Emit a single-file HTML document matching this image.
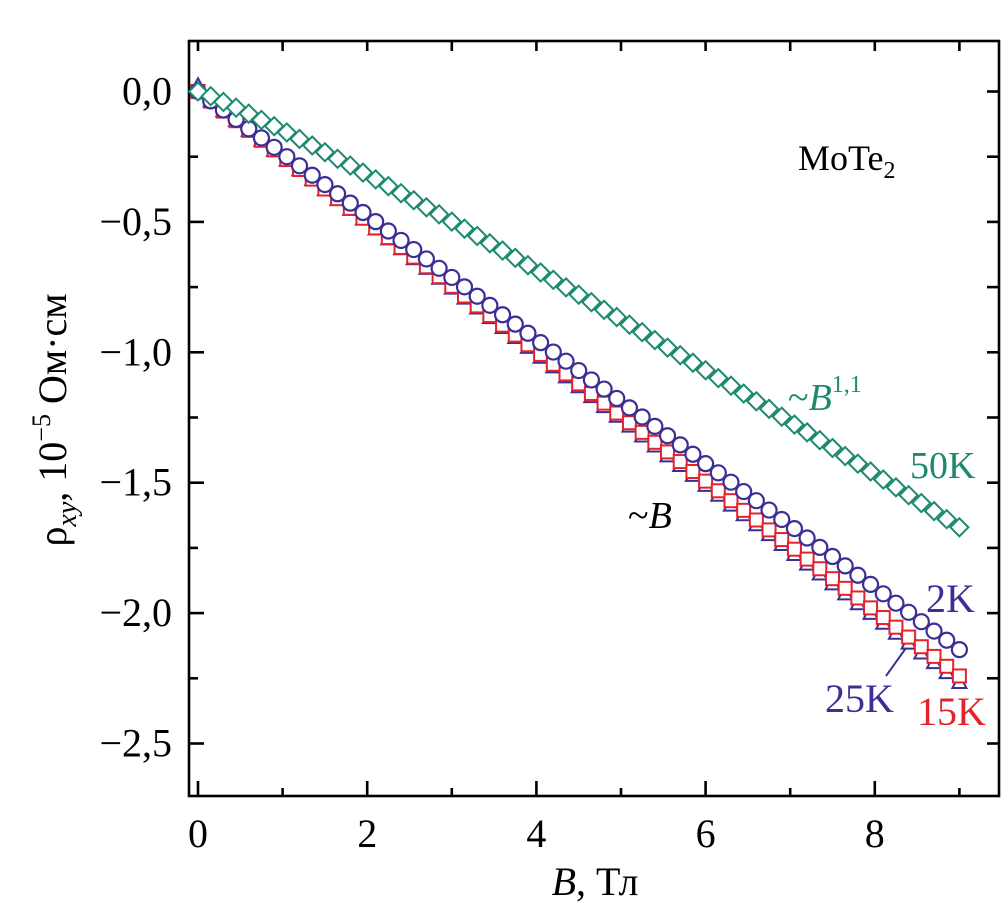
<!DOCTYPE html>
<html><head><meta charset="utf-8"><style>
html,body{margin:0;padding:0;background:#fff;}
svg{display:block;font-family:"Liberation Serif",serif;}
</style></head><body>
<svg id="chart" width="1004" height="910" viewBox="0 0 1004 910" xmlns="http://www.w3.org/2000/svg" style="position:absolute;left:0;top:0">
<g id="frame"></g>
<g id="marks"></g>
<g id="labels"></g>
</svg>
<script>
const fieldB=[0,0.15,0.3,0.45,0.6,0.75,0.9,1.05,1.2,1.35,1.5,1.65,1.8,1.95,2.1,2.25,2.4,2.55,2.7,2.85,3.0,3.15,3.3,3.45,3.6,3.75,3.9,4.05,4.2,4.35,4.5,4.65,4.8,4.95,5.1,5.25,5.4,5.55,5.7,5.85,6.0,6.15,6.3,6.45,6.6,6.75,6.9,7.05,7.2,7.35,7.5,7.65,7.8,7.95,8.1,8.25,8.4,8.55,8.7,8.85,9.0];
const rho2K=[0,-.036,-.071,-.107,-.143,-.178,-.214,-.250,-.285,-.321,-.357,-.392,-.428,-.464,-.499,-.535,-.571,-.606,-.642,-.678,-.713,-.749,-.785,-.820,-.856,-.892,-.927,-.963,-.999,-1.034,-1.070,-1.106,-1.141,-1.177,-1.213,-1.248,-1.284,-1.320,-1.355,-1.391,-1.427,-1.462,-1.498,-1.534,-1.569,-1.605,-1.641,-1.676,-1.712,-1.748,-1.783,-1.819,-1.855,-1.890,-1.926,-1.962,-1.997,-2.033,-2.069,-2.104,-2.14];
const rho15K=[0,-.037,-.075,-.112,-.149,-.187,-.224,-.261,-.299,-.336,-.374,-.411,-.448,-.486,-.523,-.560,-.598,-.635,-.672,-.710,-.747,-.784,-.822,-.859,-.896,-.934,-.971,-1.008,-1.046,-1.083,-1.121,-1.158,-1.195,-1.233,-1.270,-1.307,-1.345,-1.382,-1.419,-1.457,-1.494,-1.531,-1.569,-1.606,-1.643,-1.681,-1.718,-1.755,-1.793,-1.830,-1.868,-1.905,-1.942,-1.980,-2.017,-2.054,-2.092,-2.129,-2.166,-2.204,-2.241];
const rho25K=[0.02,-.038,-.076,-.113,-.151,-.189,-.227,-.265,-.302,-.340,-.378,-.416,-.454,-.491,-.529,-.567,-.605,-.643,-.680,-.718,-.756,-.794,-.832,-.869,-.907,-.945,-.983,-1.021,-1.058,-1.096,-1.134,-1.172,-1.210,-1.247,-1.285,-1.323,-1.361,-1.399,-1.436,-1.474,-1.512,-1.550,-1.588,-1.625,-1.663,-1.701,-1.739,-1.777,-1.814,-1.852,-1.890,-1.928,-1.966,-2.003,-2.041,-2.079,-2.117,-2.155,-2.192,-2.230,-2.268];
const rho50K=[0,-.018,-.040,-.062,-.085,-.109,-.133,-.157,-.182,-.207,-.233,-.258,-.284,-.311,-.337,-.363,-.390,-.417,-.444,-.471,-.499,-.526,-.554,-.582,-.610,-.638,-.666,-.694,-.722,-.751,-.779,-.808,-.837,-.865,-.894,-.923,-.953,-.982,-1.011,-1.040,-1.069,-1.099,-1.128,-1.158,-1.188,-1.217,-1.247,-1.277,-1.307,-1.337,-1.367,-1.398,-1.427,-1.457,-1.488,-1.518,-1.548,-1.578,-1.609,-1.640,-1.671];
const xTicks=[0,2,4,6,8];
const xTickLabels=["0","2","4","6","8"];
const yTicks=[0,-0.5,-1,-1.5,-2,-2.5];
const yTickLabels=["0,0","\u22120,5","\u22121,0","\u22121,5","\u22122,0","\u22122,5"];

const L=189,R=999,T=41,Bt=796;
const X=v=>198+v*84.6;
const Y=v=>91.5-v*260.8;
const NS="http://www.w3.org/2000/svg";
function mk(tag,attrs,parent){const e=document.createElementNS(NS,tag);for(const k in attrs)e.setAttribute(k,attrs[k]);parent.appendChild(e);return e;}
const frame=document.getElementById('frame'),marks=document.getElementById('marks'),labels=document.getElementById('labels');
const ax=mk('rect',{x:L,y:T,width:R-L,height:Bt-T,fill:'none',stroke:'#000','stroke-width':2.6},frame);


for(let v=0;v<=9;v++){
  const major=v%2===0;
  const t=mk('line',{x1:X(v),x2:X(v),y1:Bt,y2:Bt-(major?15:8),stroke:'#000','stroke-width':2.6},frame);
  
  
  mk('line',{x1:X(v),x2:X(v),y1:T,y2:T+10,stroke:'#000','stroke-width':2.6},frame);
}
for(let k=0;k<=10;k++){
  const v=-0.25*k;
  const major=k%2===0;
  const len=major?15:9;
  const t=mk('line',{x1:L,x2:L+len,y1:Y(v),y2:Y(v),stroke:'#000','stroke-width':2.6},frame);
  
  
  mk('line',{x1:R,x2:R-12,y1:Y(v),y2:Y(v),stroke:'#000','stroke-width':2.6},frame);
}
xTicks.forEach((v,i)=>{
  const t=mk('text',{x:X(v),y:847,'font-size':40,'text-anchor':'middle'},labels);
  t.textContent=xTickLabels[i];
  
  
});
yTicks.forEach((v,i)=>{
  const t=mk('text',{x:172,y:Y(v)+13,'font-size':40,'text-anchor':'end'},labels);
  t.textContent=yTickLabels[i];
  
  
});
function series(vals,shape,color,name){
  const g=mk('g',{},marks);
  
  
  fieldB.forEach((b,i)=>{
    const cx=X(b),cy=Y(vals[i]);let e;
    if(shape==='circle')e=mk('circle',{cx:cx,cy:cy,r:7.5,fill:'#fff',stroke:color,'stroke-width':2.2},g);
    else if(shape==='square')e=mk('rect',{x:cx-6.5,y:cy-6.5,width:13,height:13,fill:'#fff',stroke:color,'stroke-width':2},g);
    else if(shape==='triangle')e=mk('polygon',{points:`${cx},${cy-8} ${cx-7},${cy+5} ${cx+7},${cy+5}`,fill:'#fff',stroke:color,'stroke-width':2},g);
    else e=mk('polygon',{points:`${cx},${cy-9} ${cx+9},${cy} ${cx},${cy+9} ${cx-9},${cy}`,fill:'#fff',stroke:color,'stroke-width':2},g);
    
    
  });
}
series(rho25K,'triangle','#3b2f95','series-25k');
series(rho15K,'square','#e8202a','series-15k');
series(rho2K,'circle','#3b2f95','series-2k');
series(rho50K,'diamond','#1d8a70','series-50k');
</script>
<svg style="position:absolute;left:0;top:0" width="1004" height="910" xmlns="http://www.w3.org/2000/svg" font-family="Liberation Serif, serif">
<text x="595" y="895" font-size="40" text-anchor="middle"><tspan font-style="italic">B</tspan>, Тл</text>
<text transform="translate(66,420) rotate(-90)" font-size="40" text-anchor="middle">ρ<tspan font-size="28" font-style="italic" dy="10">xy</tspan><tspan dy="-10">, 10</tspan><tspan font-size="26" dy="-16">−5</tspan><tspan dy="16"> Ом·см</tspan></text>
<text x="798" y="170" font-size="36">MoTe<tspan font-size="24" dy="8">2</tspan></text>
<text x="788" y="410" font-size="38" fill="#1d8a70">~<tspan font-style="italic">B</tspan><tspan font-size="24" dy="-18">1,1</tspan></text>
<text x="910" y="478" font-size="38" fill="#1d8a70">50K</text>
<text x="628" y="528" font-size="38">~<tspan font-style="italic">B</tspan></text>
<text x="926" y="612" font-size="40" fill="#3b2f95">2K</text>
<text x="825" y="712" font-size="40" fill="#3b2f95">25K</text>
<line x1="886" y1="676" x2="906" y2="648" stroke="#3b2f95" stroke-width="2"/>
<text x="917" y="725" font-size="40" fill="#e8202a">15K</text>
</svg>
</body></html>
